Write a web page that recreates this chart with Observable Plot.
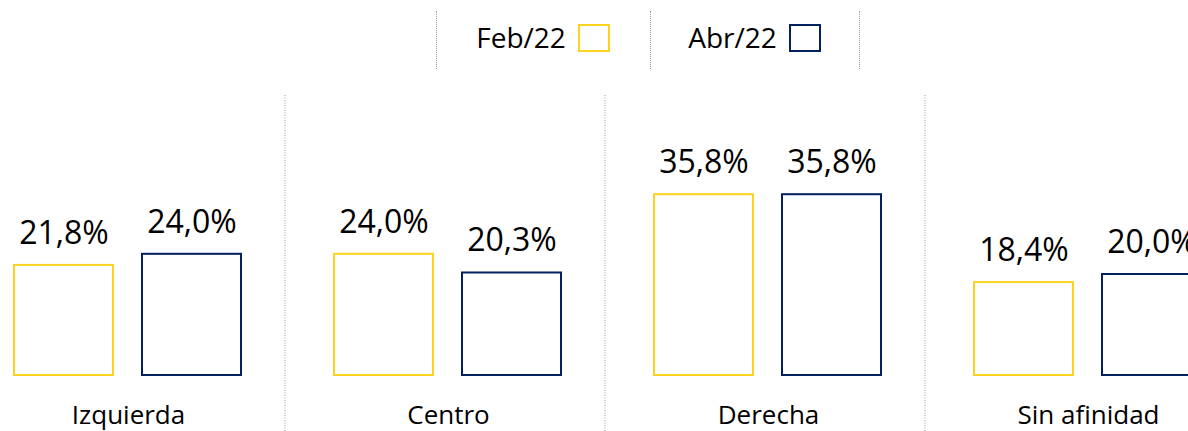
<!DOCTYPE html>
<html>
<head>
<meta charset="utf-8">
<script src="https://cdn.jsdelivr.net/npm/d3@7"></script>
<script src="https://cdn.jsdelivr.net/npm/@observablehq/plot@0.6"></script>
<style>
  html, body { margin: 0; padding: 0; background: #fff; overflow: hidden; }
  body { width: 1188px; height: 431px; font-family: "Open Sans", sans-serif; }
  #legend { position: relative; height: 80px; width: 1188px; }
  .cell { position: absolute; top: 11px; height: 58px; display: flex; align-items: center; justify-content: center; box-sizing: border-box; padding-bottom: 6px; }
  .item { display: flex; align-items: center; font-size: 28px; color: #000; }
  .box { display: inline-block; width: 28px; height: 24px; border: 2px solid; margin-left: 12px; margin-top: 2px; background: #fff; }
  .sep { position: absolute; top: 11px; height: 58px; width: 0; border-left: 1px dotted #9a9a9a; }
</style>
</head>
<body>
<div id="legend"></div>
<div id="chart"></div>
<script>
const categories = ["Izquierda", "Centro", "Derecha", "Sin afinidad"];
const series = ["Feb/22", "Abr/22"];
const febValues = [21.8, 24.0, 35.8, 18.4];
const abrValues = [24.0, 20.3, 35.8, 20.0];
const colors = ["#FFD21F", "#002060"];

const rows = [];
categories.forEach((c, i) => {
  rows.push({cat: c, series: series[0], value: febValues[i]});
  rows.push({cat: c, series: series[1], value: abrValues[i]});
});

const fmt = v => d3.format(".1f")(v).replace(".", ",") + "%";

// Legend (HTML)
const legend = document.getElementById("legend");
const cellSpecs = [{left: 436, width: 214}, {left: 650, width: 209}];
series.forEach((s, i) => {
  const cell = document.createElement("div");
  cell.className = "cell";
  cell.style.left = cellSpecs[i].left + "px";
  cell.style.width = cellSpecs[i].width + "px";
  const item = document.createElement("div");
  item.className = "item";
  const label = document.createElement("span");
  label.textContent = s;
  const box = document.createElement("span");
  box.className = "box";
  box.style.borderColor = colors[i];
  item.appendChild(label);
  item.appendChild(box);
  cell.appendChild(item);
  legend.appendChild(cell);
});
[436, 650, 859].forEach(x => {
  const sep = document.createElement("div");
  sep.className = "sep";
  sep.style.left = x + "px";
  legend.appendChild(sep);
});

const chart = Plot.plot({
  width: 1188,
  height: 351,
  marginTop: 42.5,
  marginBottom: 56,
  marginLeft: 0,
  marginRight: 0,
  style: {fontFamily: "Open Sans, sans-serif", background: "#fff", overflow: "hidden"},
  fx: {domain: categories, range: [-33, 1249], padding: 0, axis: null},
  x: {domain: series, paddingInner: 0.225, paddingOuter: 0.355, axis: null},
  y: {domain: [0, 50], axis: null},
  color: {domain: series, range: colors},
  marks: [
    Plot.ruleX(categories.slice(1).map(c => ({cat: c})), {
      fx: "cat", x: () => series[0], dx: -99,
      stroke: "#9a9a9a", strokeWidth: 1, strokeDasharray: "1,1.5",
      insetTop: -27.5, insetBottom: -56
    }),
    Plot.barY(rows, {
      fx: "cat", x: "series", y: "value",
      fill: "#fff", stroke: "series", strokeWidth: 2
    }),
    Plot.text(rows, {
      fx: "cat", x: "series", y: "value",
      text: d => fmt(d.value),
      lineAnchor: "bottom", dy: -21.5,
      fontSize: 32, fill: "#000"
    }),
    Plot.text(categories.map(c => ({cat: c})), {
      fx: "cat", text: "cat", frameAnchor: "bottom",
      lineAnchor: "bottom", dy: 48,
      fontSize: 26, fill: "#000"
    })
  ]
});
document.getElementById("chart").appendChild(chart);
</script>
</body>
</html>
